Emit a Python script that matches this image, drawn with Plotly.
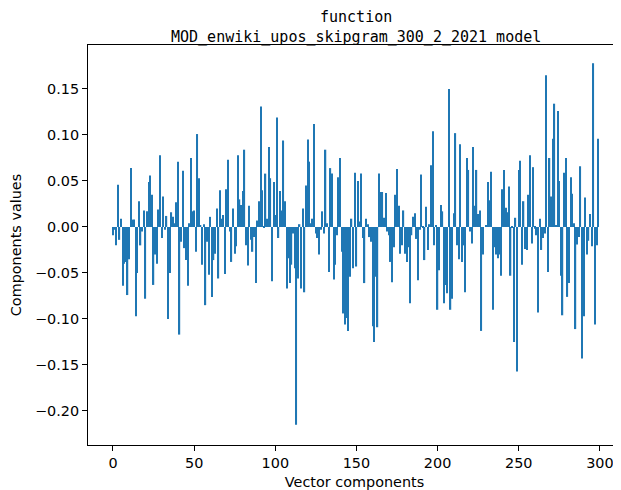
import plotly.graph_objects as go

# Component values, in blocks of 30
vals_000 = [-0.009, -0.003, -0.020, 0.046, -0.014, 0.009, -0.064, -0.040, -0.038, -0.074,
            -0.035, 0.064, 0.008, 0.008, -0.097, -0.050, 0.028, -0.020, -0.005, 0.018,
            -0.078, 0.017, 0.049, 0.056, 0.035, -0.063, -0.030, -0.040, 0.019, 0.078]
vals_030 = [-0.012, 0.033, -0.003, 0.012, -0.100, -0.050, 0.016, 0.011, 0.004, 0.027,
            0.071, -0.117, -0.016, 0.061, -0.023, -0.036, -0.064, 0.004, 0.075, 0.017,
            0.018, -0.027, 0.101, 0.053, 0.002, -0.041, 0.003, -0.085, -0.016, -0.052]
vals_060 = [0.011, -0.076, -0.036, -0.029, 0.020, -0.056, 0.040, 0.009, 0.013, -0.051,
            0.041, 0.073, -0.005, -0.038, 0.020, -0.029, -0.021, 0.078, 0.030, 0.024,
            0.039, 0.084, -0.020, -0.042, 0.023, -0.014, -0.027, -0.011, -0.061, 0.007]
vals_090 = [0.028, 0.131, 0.040, -0.001, 0.058, 0.009, 0.087, 0.053, -0.059, 0.049,
            0.013, 0.119, -0.012, 0.039, 0.018, 0.094, 0.028, -0.067, -0.034, -0.061,
            -0.041, -0.007, -0.045, -0.215, -0.056, 0.003, -0.067, 0.020, -0.071, 0.045]
vals_120 = [0.095, 0.071, 0.004, 0.009, 0.112, -0.007, -0.012, -0.030, -0.003, 0.017,
            -0.007, 0.084, 0.004, -0.049, 0.064, 0.058, -0.057, -0.041, -0.009, 0.054,
            0.075, -0.027, -0.094, -0.106, -0.099, -0.113, -0.054, 0.009, -0.045, 0.059]
vals_150 = [-0.043, 0.050, 0.006, 0.058, -0.012, -0.061, 0.009, 0.003, -0.011, -0.016,
            -0.108, -0.125, -0.054, -0.109, 0.058, 0.038, 0.038, 0.010, 0.037, -0.005,
            -0.009, -0.038, -0.060, -0.022, 0.035, 0.063, 0.023, -0.029, -0.020, 0.018]
vals_180 = [-0.029, -0.038, -0.022, -0.083, -0.009, 0.011, 0.015, -0.013, -0.058, -0.003,
            0.057, -0.001, -0.036, 0.022, -0.025, 0.003, 0.067, 0.104, -0.020, 0.002,
            -0.090, -0.047, 0.024, 0.017, -0.083, -0.063, -0.072, 0.150, -0.090, -0.078]
vals_210 = [0.015, 0.102, -0.020, -0.035, 0.090, -0.038, -0.020, -0.071, 0.075, 0.062,
            -0.005, -0.018, 0.087, 0.023, 0.062, 0.014, 0.018, -0.113, -0.030, 0.000,
            0.002, 0.049, 0.029, 0.060, -0.090, -0.022, -0.030, -0.034, -0.030, -0.053]
vals_240 = [0.041, 0.062, 0.021, 0.016, 0.044, -0.053, -0.001, -0.125, 0.010, -0.157,
            0.062, 0.072, -0.041, 0.028, -0.024, -0.025, 0.035, 0.078, -0.018, 0.065,
            -0.002, -0.009, -0.093, 0.009, -0.025, -0.012, -0.007, 0.165, -0.049, 0.075]
vals_270 = [0.033, 0.096, 0.134, 0.002, 0.126, 0.050, -0.053, -0.096, 0.059, 0.075,
            -0.076, -0.061, 0.054, 0.036, 0.004, -0.111, -0.019, -0.011, 0.066, -0.143,
            -0.097, 0.032, -0.030, -0.015, 0.014, -0.021, 0.178, -0.106, -0.020, 0.096]

values = (vals_000 + vals_030 + vals_060 + vals_090 + vals_120 +
          vals_150 + vals_180 + vals_210 + vals_240 + vals_270)
components = list(range(len(values)))

x_ticks = [0, 50, 100, 150, 200, 250, 300]
y_ticks = [-0.20, -0.15, -0.10, -0.05, 0.00, 0.05, 0.10, 0.15]
y_tick_text = [("\u2212" if v < 0 else "") + f"{abs(v):.2f}" for v in y_ticks]

title_text = "function<br>MOD_enwiki_upos_skipgram_300_2_2021 model"

fig = go.Figure()
fig.add_trace(go.Bar(x=components, y=values, width=0.8,
                     marker=dict(color="#1f77b4", line=dict(width=0))))

axis_font = dict(family="DejaVu Sans", size=14.4, color="black")
title_font = dict(family="DejaVu Sans Mono", size=15, color="black")

# the page body adds an 8px offset, so the figure is 613x482
fig.update_layout(
    width=613, height=482,
    margin=dict(l=80, r=0, t=37, b=45),
    paper_bgcolor="white", plot_bgcolor="white",
    showlegend=False,
    font=axis_font,
    bargap=0.2,
    annotations=[dict(text=title_text, xref="paper", yref="paper", x=0.502, y=1,
                      xanchor="center", yanchor="bottom", yshift=-2, borderpad=0,
                      showarrow=False, align="center", font=title_font)],
)
fig.update_xaxes(range=[-15.4, 313.0], tickvals=x_ticks, ticktext=[str(v) for v in x_ticks],
                 showgrid=False, zeroline=False, showline=True, linecolor="black",
                 linewidth=1, mirror=True, ticks="outside", ticklen=5, tickcolor="black",
                 tickwidth=1, tickfont=axis_font,
                 title=dict(text="Vector components", font=axis_font, standoff=7))
fig.update_yaxes(range=[-0.237, 0.1978], tickvals=y_ticks, ticktext=y_tick_text,
                 showgrid=False, zeroline=False, showline=True, linecolor="black",
                 linewidth=1, mirror=False, ticks="outside", ticklen=5, tickcolor="black",
                 tickwidth=1, tickfont=axis_font,
                 title=dict(text="Components values", font=axis_font, standoff=10))

fig.write_html("out.html")
